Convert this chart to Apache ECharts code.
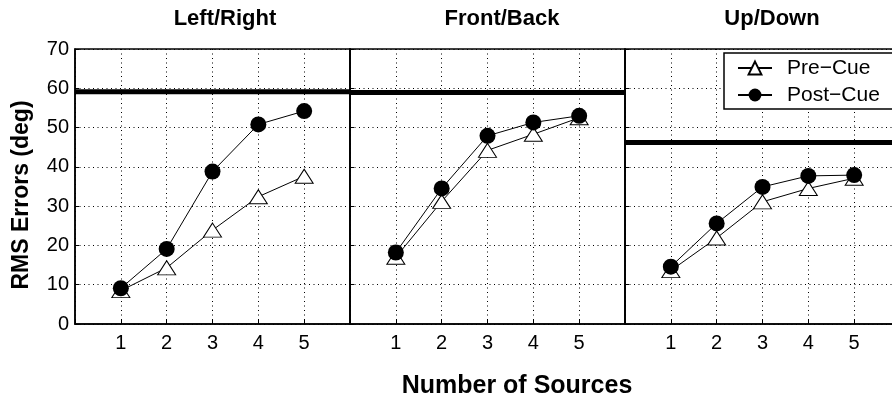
<!DOCTYPE html>
<html>
<head>
<meta charset="utf-8">
<script src="https://cdn.jsdelivr.net/npm/echarts@6/dist/echarts.min.js"></script>
<style>
  html, body { margin: 0; padding: 0; background: #fff; overflow: hidden; width: 892px; height: 397px; }
  #chart { width: 940px; height: 397px; }
</style>
</head>
<body>
<div id="chart"></div>
<script>
// Number of simultaneous sources (x positions / tick labels)
const sources = [1, 2, 3, 4, 5];
const panelTitles = ['Left/Right', 'Front/Back', 'Up/Down'];
const seriesNames = ['Pre\u2212Cue', 'Post\u2212Cue'];

// RMS localisation errors (deg), one pair of arrays per dimension
const preCueLR  = [8.5, 14.3, 23.9, 32.4, 37.6];
const postCueLR = [9.1, 19.1, 38.8, 50.8, 54.2];
const preCueFB  = [17.0, 31.2, 44.2, 48.3, 52.5];
const postCueFB = [18.2, 34.5, 47.9, 51.3, 53.0];
const preCueUD  = [13.6, 21.9, 31.1, 34.5, 37.1];
const postCueUD = [14.6, 25.6, 34.9, 37.7, 37.9];

// Chance-level error for each dimension
const chanceLevel = [59.1, 58.9, 46.2];

const yMin = 0, yMax = 70, yStep = 10;
const xMin = 0, xMax = 6;

const FONT = 'Liberation Sans, Arial, Helvetica, sans-serif';
const pre = [preCueLR, preCueFB, preCueUD];
const post = [postCueLR, postCueFB, postCueUD];

const panelLeft = [75, 350, 625];
const panelTop = 49, panelW = 275, panelH = 275;

const dotted = { color: '#000', width: 1, type: [1, 3.5] };

const grids = [], xAxes = [], yAxes = [], series = [];
for (let p = 0; p < 3; p++) {
  grids.push({
    left: panelLeft[p], top: panelTop, width: panelW, height: panelH,
    show: true, borderColor: '#000', borderWidth: 1.5, backgroundColor: 'transparent'
  });
  xAxes.push({
    gridIndex: p, type: 'value', min: xMin, max: xMax, interval: 1,
    axisLine: { show: true, lineStyle: { color: '#000', width: 1.5 } },
    axisTick: { show: true, inside: true, length: 4, lineStyle: { color: '#000' } },
    splitLine: { show: true, lineStyle: dotted },
    axisLabel: {
      show: true, margin: 9, color: '#000', fontFamily: FONT, fontSize: 20,
      formatter: v => (sources.indexOf(v) >= 0 ? String(v) : '')
    }
  });
  yAxes.push({
    gridIndex: p, type: 'value', min: yMin, max: yMax, interval: yStep,
    axisLine: { show: true, lineStyle: { color: '#000', width: 1.5 } },
    axisTick: { show: true, inside: true, length: 4, lineStyle: { color: '#000' } },
    splitLine: { show: true, lineStyle: dotted },
    axisLabel: {
      show: p === 0, margin: 6, color: '#000', fontFamily: FONT, fontSize: 20
    }
  });

  // chance-level reference line across the whole panel
  series.push({
    type: 'line', xAxisIndex: p, yAxisIndex: p, silent: true,
    symbol: 'none', data: [[xMin, chanceLevel[p]], [xMax, chanceLevel[p]]],
    lineStyle: { color: '#000', width: 5 }, z: 3
  });
  series.push({
    name: seriesNames[0], type: 'line', xAxisIndex: p, yAxisIndex: p,
    data: sources.map((s, i) => [s, pre[p][i]]),
    symbol: 'triangle', symbolSize: [18, 14],
    itemStyle: { color: '#fff', borderColor: '#000', borderWidth: 1 },
    lineStyle: { color: '#000', width: 1 }, z: 4
  });
  series.push({
    name: seriesNames[1], type: 'line', xAxisIndex: p, yAxisIndex: p,
    data: sources.map((s, i) => [s, post[p][i]]),
    symbol: 'circle', symbolSize: 16,
    itemStyle: { color: '#000', borderColor: '#000', borderWidth: 0 },
    lineStyle: { color: '#000', width: 1 }, z: 5
  });
}

const titleCenters = [225, 502, 772];
const graphics = panelTitles.map((t, i) => ({
  type: 'text', x: titleCenters[i], y: 19, z: 10,
  style: { text: t, fontFamily: FONT, fontWeight: 'bold', fontSize: 22,
           fill: '#000', textAlign: 'center', textVerticalAlign: 'middle' }
}));
graphics.push({
  type: 'text', x: 517, y: 386, z: 10,
  style: { text: 'Number of Sources', fontFamily: FONT, fontWeight: 'bold', fontSize: 25,
           fill: '#000', textAlign: 'center', textVerticalAlign: 'middle' }
});
graphics.push({
  type: 'text', x: 22, y: 195, rotation: Math.PI / 2, z: 10,
  style: { text: 'RMS Errors (deg)', fontFamily: FONT, fontWeight: 'bold', fontSize: 23,
           fill: '#000', textAlign: 'center', textVerticalAlign: 'middle' }
});

const chart = echarts.init(document.getElementById('chart'), null, { renderer: 'canvas' });
chart.setOption({
  animation: false,
  backgroundColor: '#fff',
  grid: grids,
  xAxis: xAxes,
  yAxis: yAxes,
  series: series,
  legend: {
    data: seriesNames, orient: 'vertical', left: 724, top: 53,
    itemWidth: 34, itemHeight: 16, itemGap: 5,
    padding: [4, 30, 3, 13],
    borderColor: '#000', borderWidth: 1.5, backgroundColor: '#fff',
    textStyle: { fontFamily: FONT, fontSize: 21, lineHeight: 22, color: '#000', padding: [0, 0, 0, 10] },
    selectedMode: false, z: 20
  },
  graphic: graphics
});
</script>
</body>
</html>
